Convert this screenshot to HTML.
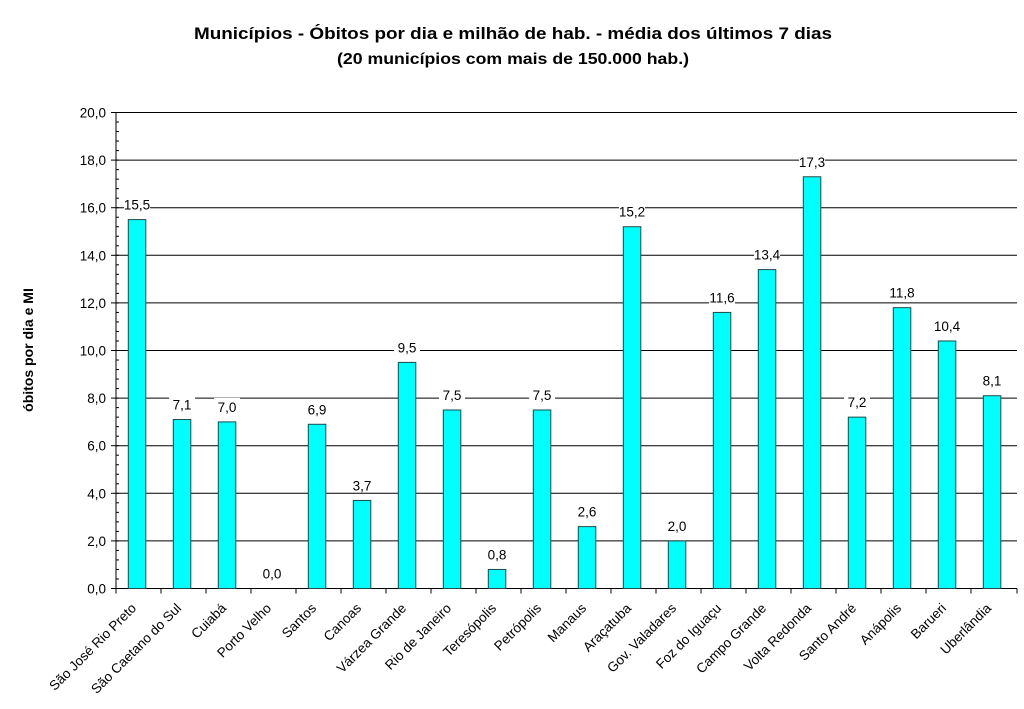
<!DOCTYPE html>
<html><head><meta charset="utf-8"><style>body{margin:0;background:#fff}svg{display:block}</style></head>
<body>
<svg xmlns="http://www.w3.org/2000/svg" width="1024" height="709" viewBox="0 0 1024 709" font-family="Liberation Sans, Arial, sans-serif">
<rect width="1024" height="709" fill="#fff"/>
<text x="513" y="39" text-anchor="middle" font-weight="bold" font-size="17" textLength="638" lengthAdjust="spacingAndGlyphs">Municípios - Óbitos por dia e milhão de hab.  - média dos últimos 7 dias</text>
<text x="513" y="64" text-anchor="middle" font-weight="bold" font-size="16" textLength="352" lengthAdjust="spacingAndGlyphs">(20 municípios com mais de 150.000 hab.)</text>
<text transform="translate(33,350) rotate(-90)" text-anchor="middle" font-weight="bold" font-size="14">óbitos por dia e MI</text>
<g id="grid" stroke="#000" stroke-width="1"></g>
<g id="bars"></g>
<g id="txt" font-size="13.5" fill="#000"></g>
<script>
var ns="http://www.w3.org/2000/svg";
function el(p,t,a,txt){var e=document.createElementNS(ns,t);for(var k in a)e.setAttribute(k,a[k]);if(txt!=null)e.textContent=txt;document.getElementById(p).appendChild(e);return e;}
var y0=588.5,s=23.8,x0=116,w=45;
for(var v=0;v<=20;v+=2){var y=y0-v*s;
 if(v>0)el("grid","line",{x1:x0,x2:1017,y1:y,y2:y});
 el("grid","line",{x1:x0-5,x2:x0,y1:y,y2:y});
 el("txt","text",{x:x0-10,y:y+5,"text-anchor":"end"},v.toFixed(1).replace(".",","));}
for(var v=0;v<20;v+=0.4){var y=y0-v*s;el("grid","line",{x1:x0,x2:x0+3,y1:y,y2:y});}
el("grid","line",{x1:x0,x2:x0,y1:112,y2:y0});
el("grid","line",{x1:x0,x2:1017,y1:y0,y2:y0});
var names=["São José Rio Preto","São Caetano do Sul","Cuiabá","Porto Velho","Santos","Canoas","Várzea Grande","Rio de Janeiro","Teresópolis","Petrópolis","Manaus","Araçatuba","Gov. Valadares","Foz do Iguaçu","Campo Grande","Volta Redonda","Santo André","Anápolis","Barueri","Uberlândia"];
var vals=[15.5,7.1,7.0,0.0,6.9,3.7,9.5,7.5,0.8,7.5,2.6,15.2,2.0,11.6,13.4,17.3,7.2,11.8,10.4,8.1];
for(var i=0;i<20;i++){var tx=x0+w*i;
 el("grid","line",{x1:tx,x2:tx,y1:y0,y2:y0+5});
 var bx=tx+12.3,bt=y0-vals[i]*s,cx=bx+8.75;
 if(vals[i]>0)el("bars","rect",{x:bx,y:bt,width:17.5,height:vals[i]*s,fill:"#00ffff",stroke:"#1a4a4a","stroke-width":1});
 var lab=vals[i].toFixed(1).replace(".",",");
 el("bars","rect",{x:cx-13,y:bt-24,width:26,height:16,fill:"#fff"});
 el("txt","text",{x:cx,y:bt-10,"text-anchor":"middle"},lab);
 el("txt","text",{x:cx,y:609,"text-anchor":"end",transform:"rotate(-45 "+cx+" 609)"},names[i]);
}
el("grid","line",{x1:1017,x2:1017,y1:y0,y2:y0+5});
</script>
</svg>
</body></html>
